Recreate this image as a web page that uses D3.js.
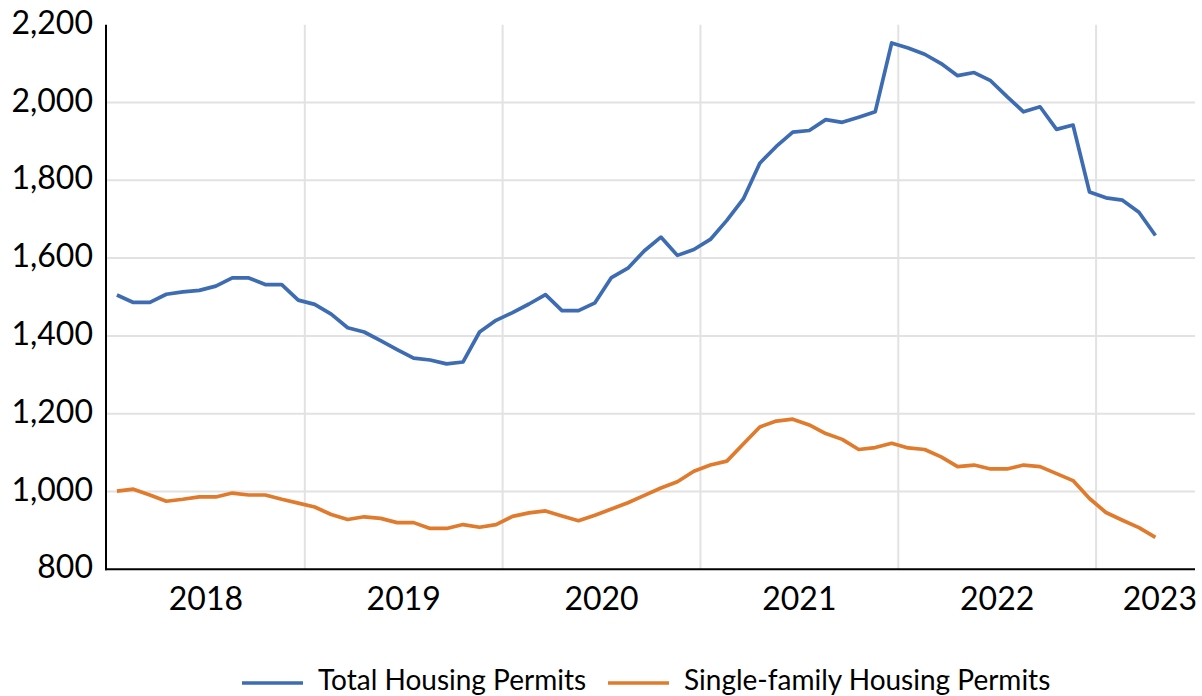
<!DOCTYPE html>
<html>
<head>
<meta charset="utf-8">
<script src="https://cdn.jsdelivr.net/npm/d3@7"></script>
<style>
  html, body { margin: 0; padding: 0; background: #fff; }
  svg { display: block; }
  text { font-family: Lato, "Open Sans", sans-serif; fill: #000; }
</style>
</head>
<body>
<svg id="chart" width="1202" height="696"></svg>
<script>
// ---- data ----
const years = ["2018", "2019", "2020", "2021", "2022", "2023"];
const yTicks = [800, 1000, 1200, 1400, 1600, 1800, 2000, 2200];
const seriesNames = ["Total Housing Permits", "Single-family Housing Permits"];
const months = d3.timeMonth.range(new Date(2018, 0, 1), new Date(2023, 4, 1)); // Jan 2018 .. Apr 2023
const totalPermits = [
  1505, 1486, 1486, 1507, 1513, 1517, 1528, 1549, 1549, 1532, 1532, 1492,
  1481, 1456, 1421, 1410, 1388, 1365, 1343, 1338, 1328, 1333, 1410, 1440,
  1460, 1482, 1506, 1465, 1465, 1485, 1550, 1574, 1619, 1654, 1607, 1622,
  1648, 1697, 1752, 1844, 1887, 1924, 1928, 1956, 1949, 1962, 1976, 2153,
  2140, 2124, 2100, 2069, 2077, 2056, 2015, 1976, 1989, 1931, 1942, 1770,
  1755, 1749, 1718, 1658
];
const singleFamily = [
  1001, 1006, 991, 975, 980, 986, 986, 996, 991, 991, 980, 970,
  960, 941, 928, 935, 931, 920, 920, 905, 905, 915, 908, 915,
  936, 945, 950, 937, 925, 939, 955, 971, 990, 1009, 1025, 1052,
  1068, 1078, 1122, 1166, 1181, 1186, 1171, 1149, 1134, 1108, 1113, 1124,
  1112, 1108, 1089, 1064, 1068, 1058, 1058, 1068, 1064, 1046, 1028, 982,
  946, 926, 907, 882
];
const colors = ["#3d6cb3", "#e07b2d"];

(function () {
  // ---- layout ----
  const svg = d3.select("#chart");
  const pL = 107, pR = 1195, pT = 24.7, pB = 569.3;
  const totalMonths = 66; // axis spans Jan 2018 .. Jun 2023
  const pointOffset = 0.6;

  const x = d3.scaleLinear().domain([0, totalMonths]).range([pL, pR]);
  const y = d3.scaleLinear().domain([800, 2200]).range([pB, pT]);
  const monthIndex = (d) => (d.getFullYear() - 2018) * 12 + d.getMonth();

  // horizontal gridlines
  svg.append("g").selectAll("line")
    .data(yTicks.filter(v => v > 800 && v < 2200))
    .join("line")
    .attr("x1", pL).attr("x2", pR)
    .attr("y1", d => y(d)).attr("y2", d => y(d))
    .attr("stroke", "#e2e2e2").attr("stroke-width", 2);

  // vertical gridlines at year boundaries
  svg.append("g").selectAll("line")
    .data(years.slice(1))
    .join("line")
    .attr("x1", (d, i) => x((i + 1) * 12)).attr("x2", (d, i) => x((i + 1) * 12))
    .attr("y1", pT).attr("y2", pB)
    .attr("stroke", "#e2e2e2").attr("stroke-width", 2);

  // y tick labels
  svg.append("g").selectAll("text")
    .data(yTicks)
    .join("text")
    .attr("x", 93)
    .attr("y", d => y(d) + 9)
    .attr("text-anchor", "end")
    .attr("font-size", 32)
    .text(d => d3.format(",")(d));

  // x labels (centered in each year, last one kept inside the chart)
  svg.append("g").selectAll("text")
    .data(years)
    .join("text")
    .attr("x", (d, i) => {
      const a = x(i * 12), b = x(Math.min((i + 1) * 12, totalMonths));
      return i === years.length - 1 ? 1197 : (a + b) / 2;
    })
    .attr("y", 610)
    .attr("text-anchor", (d, i) => i === years.length - 1 ? "end" : "middle")
    .attr("font-size", 32)
    .text(d => d);

  // series lines
  const line = d3.line()
    .x((d, i) => x(monthIndex(months[i]) + pointOffset))
    .y(d => y(d));

  [totalPermits, singleFamily].forEach((vals, k) => {
    svg.append("path")
      .datum(vals)
      .attr("d", line)
      .attr("fill", "none")
      .attr("stroke", colors[k])
      .attr("stroke-width", 3.7)
      .attr("stroke-linejoin", "round");
  });

  // axes lines
  svg.append("line").attr("x1", pL - 1).attr("x2", pL - 1).attr("y1", pT).attr("y2", pB + 1)
    .attr("stroke", "#000").attr("stroke-width", 2);
  svg.append("line").attr("x1", pL - 2).attr("x2", pR).attr("y1", pB).attr("y2", pB)
    .attr("stroke", "#000").attr("stroke-width", 2);

  // legend
  const legendItems = [
    { name: seriesNames[0], color: colors[0], lx: 242, tx: 318 },
    { name: seriesNames[1], color: colors[1], lx: 608, tx: 684 }
  ];
  const lg = svg.append("g");
  legendItems.forEach(it => {
    lg.append("line").attr("x1", it.lx).attr("x2", it.lx + 61).attr("y1", 683).attr("y2", 683)
      .attr("stroke", it.color).attr("stroke-width", 3.7);
    lg.append("text").attr("x", it.tx).attr("y", 690).attr("font-size", 28).text(it.name);
  });
})();
</script>
</body>
</html>
